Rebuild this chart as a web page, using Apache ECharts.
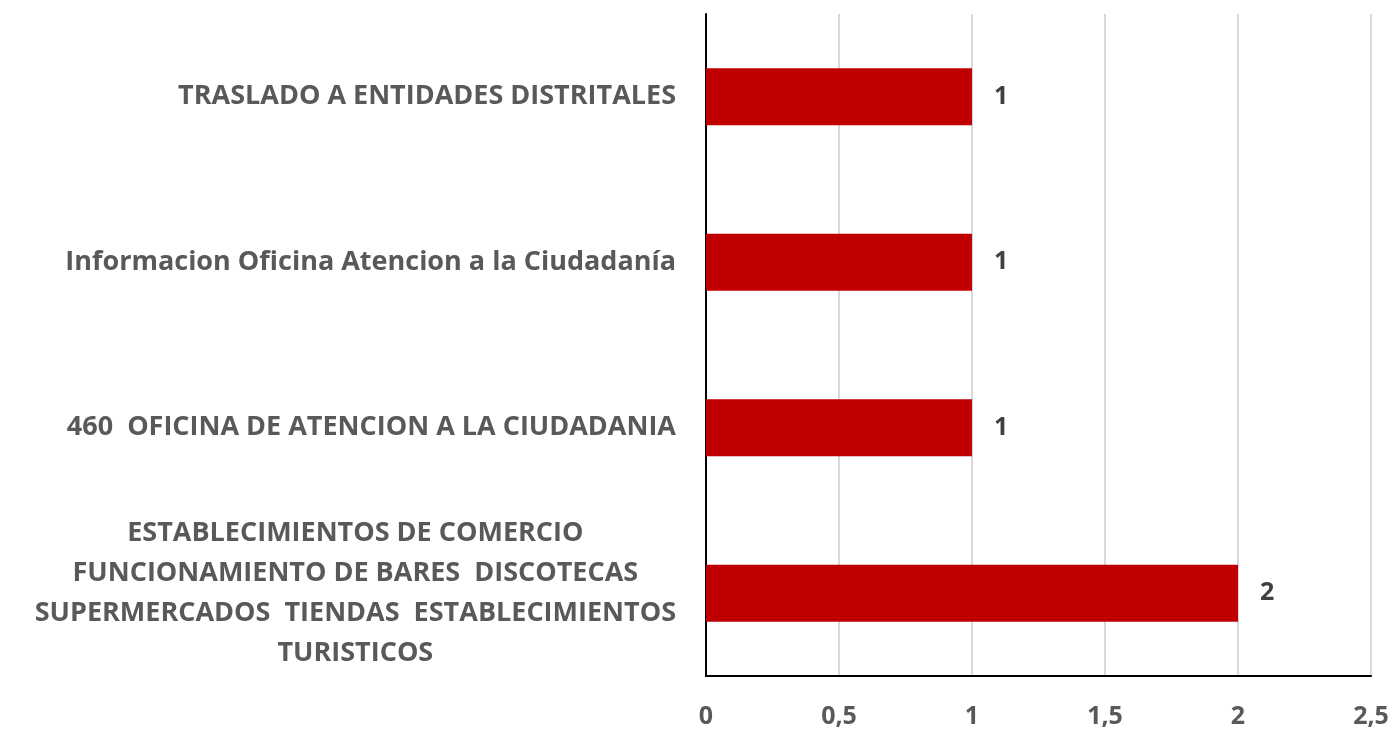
<!DOCTYPE html>
<html>
<head>
	<meta charset="utf-8">
	<title>Chart</title>
	<script src="https://cdn.jsdelivr.net/npm/echarts@6/dist/echarts.min.js"></script>
	<style>
		html, body { margin: 0; padding: 0; background: #ffffff; }
	</style>
</head>
<body>
	<div id="chart" style="width: 1396px;height: 731px;"></div>
<script>
	// categories, top to bottom
	var categories = [
		'TRASLADO A ENTIDADES DISTRITALES',
		'Informacion Oficina Atencion a la Ciudadanía',
		'460  OFICINA DE ATENCION A LA CIUDADANIA',
		'ESTABLECIMIENTOS DE COMERCIO\nFUNCIONAMIENTO DE BARES  DISCOTECAS\nSUPERMERCADOS  TIENDAS  ESTABLECIMIENTOS\nTURISTICOS'
	];
	var values = [1, 1, 1, 2];
	var xTicks = [0, 0.5, 1, 1.5, 2, 2.5];

	var font = '"Open Sans", sans-serif';

	var option = {
		animation: false,
		grid: {
			left: 706,
			right: 25,
			top: 14,
			bottom: 55
		},
		xAxis: {
			type: 'value',
			min: xTicks[0],
			max: xTicks[xTicks.length - 1],
			interval: 0.5,
			axisLine: { show: true, lineStyle: { color: '#000000', width: 2 } },
			axisTick: { show: false },
			axisLabel: {
				margin: 28,
				color: '#595959',
				fontFamily: font,
				fontWeight: 'bold',
				fontSize: 25,
				formatter: function (v) { return String(v).replace('.', ','); }
			},
			splitLine: { show: true, lineStyle: { color: '#d9d9d9', width: 2 } }
		},
		yAxis: {
			type: 'category',
			inverse: true,
			data: categories,
			axisLine: { show: true, lineStyle: { color: '#000000', width: 2 } },
			axisTick: { show: false },
			axisLabel: {
				margin: 30,
				align: 'right',
				formatter: function (v) {
					// centre every line inside the right-aligned block
					return v.split('\n').map(function (s) { return '{c|' + s + '}'; }).join('\n');
				},
				rich: {
					c: {
						align: 'center',
						color: '#595959',
						fontFamily: font,
						fontWeight: 'bold',
						fontSize: 27,
						lineHeight: 40
					}
				}
			}
		},
		series: [{
			type: 'bar',
			data: values,
			barWidth: 57,
			itemStyle: { color: '#c00000' },
			label: {
				show: true,
				position: 'right',
				distance: 22,
				color: '#404040',
				fontFamily: font,
				fontWeight: 'bold',
				fontSize: 25
			}
		}]
	};
	var chart = echarts.init(document.getElementById('chart'));
	chart.setOption(option);
</script>
</body>
</html>
